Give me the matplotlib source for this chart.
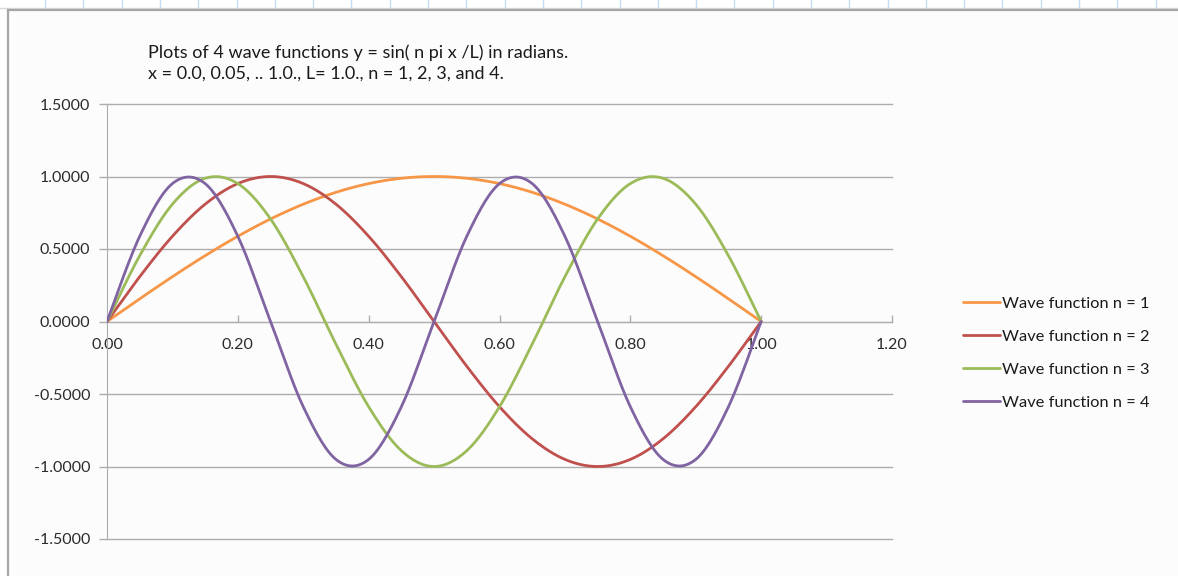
import numpy as np
import matplotlib.pyplot as plt
from matplotlib.lines import Line2D
from matplotlib.patches import Rectangle

plt.rcParams['font.family'] = ['Lato', 'DejaVu Sans']

# x = 0.0, 0.05, .. 1.0
x = [0.00, 0.05, 0.10, 0.15, 0.20, 0.25, 0.30, 0.35, 0.40, 0.45, 0.50,
     0.55, 0.60, 0.65, 0.70, 0.75, 0.80, 0.85, 0.90, 0.95, 1.00]

wave_n1 = [0.0000, 0.1564, 0.3090, 0.4540, 0.5878, 0.7071, 0.8090, 0.8910, 0.9511, 0.9877, 1.0000,
           0.9877, 0.9511, 0.8910, 0.8090, 0.7071, 0.5878, 0.4540, 0.3090, 0.1564, 0.0000]
wave_n2 = [0.0000, 0.3090, 0.5878, 0.8090, 0.9511, 1.0000, 0.9511, 0.8090, 0.5878, 0.3090, 0.0000,
           -0.3090, -0.5878, -0.8090, -0.9511, -1.0000, -0.9511, -0.8090, -0.5878, -0.3090, 0.0000]
wave_n3 = [0.0000, 0.4540, 0.8090, 0.9877, 0.9511, 0.7071, 0.3090, -0.1564, -0.5878, -0.8910, -1.0000,
           -0.8910, -0.5878, -0.1564, 0.3090, 0.7071, 0.9511, 0.9877, 0.8090, 0.4540, 0.0000]
wave_n4 = [0.0000, 0.5878, 0.9511, 0.9511, 0.5878, 0.0000, -0.5878, -0.9511, -0.9511, -0.5878, 0.0000,
           0.5878, 0.9511, 0.9511, 0.5878, 0.0000, -0.5878, -0.9511, -0.9511, -0.5878, 0.0000]

series_labels = ['Wave function n = 1', 'Wave function n = 2',
                 'Wave function n = 3', 'Wave function n = 4']
series_colors = ['#F79646', '#C0504D', '#9BBB59', '#8064A2']

title_lines = ['Plots of 4 wave functions y = sin( n pi x /L) in radians.',
               'x = 0.0, 0.05, .. 1.0., L= 1.0., n = 1, 2, 3, and 4.']

x_ticks = [0.0, 0.2, 0.4, 0.6, 0.8, 1.0, 1.2]
y_ticks = [-1.5, -1.0, -0.5, 0.0, 0.5, 1.0, 1.5]


def smooth(xs, ys, steps=16):
    # Catmull-Rom curve through the points (like a spreadsheet "smoothed line")
    p = np.column_stack([xs, ys]).astype(float)
    p = np.vstack([p[0], p, p[-1]])
    t = np.linspace(0, 1, steps, endpoint=False)[:, None]
    out = []
    for i in range(1, len(p) - 2):
        p0, p1, p2, p3 = p[i - 1], p[i], p[i + 1], p[i + 2]
        seg = 0.5 * ((2 * p1) + (-p0 + p2) * t + (2 * p0 - 5 * p1 + 4 * p2 - p3) * t ** 2
                     + (-p0 + 3 * p1 - 3 * p2 + p3) * t ** 3)
        out.append(seg)
    out.append(p[-2][None, :])
    out = np.vstack(out)
    return out[:, 0], out[:, 1]


W, H = 1178, 576
fig = plt.figure(figsize=(W / 100, H / 100), dpi=100)
fig.patch.set_facecolor('#FCFCFC')


def fx(px):
    return px / W


def fy(py):
    return 1 - py / H


# spreadsheet strip above the chart frame
fig.add_artist(Rectangle((0, fy(9)), 1, 9 / H, transform=fig.transFigure,
                         facecolor='white', edgecolor='none'))
for gx in np.arange(45, W, 38.3):
    fig.add_artist(Line2D([fx(gx), fx(gx)], [fy(0), fy(7)], transform=fig.transFigure,
                          color='#C5DCF5', lw=1))
fig.add_artist(Line2D([0, 1], [fy(7.5), fy(7.5)], transform=fig.transFigure,
                      color='#DADADA', lw=1))
fig.add_artist(Rectangle((0, 0), fx(7), fy(9), transform=fig.transFigure,
                         facecolor='white', edgecolor='none'))
# chart frame
fig.add_artist(Line2D([fx(7.5), 1], [fy(10), fy(10)], transform=fig.transFigure,
                      color='#A6A6A6', lw=1.6))
fig.add_artist(Line2D([fx(7.5), fx(7.5)], [0, fy(10)], transform=fig.transFigure,
                      color='#A6A6A6', lw=1.6))

ax = fig.add_axes([fx(107), fy(539), fx(892) - fx(107), fy(104) - fy(539)])
ax.set_facecolor('#FCFCFC')

for ys, lab, col in zip([wave_n1, wave_n2, wave_n3, wave_n4], series_labels, series_colors):
    sx, sy = smooth(x, ys)
    ax.plot(sx, sy, color=col, lw=2.0, label=lab, zorder=3, solid_capstyle='round')

ax.set_xlim(0, 1.2)
ax.set_ylim(-1.5, 1.5)
ax.set_xticks(x_ticks)
ax.set_xticklabels([f'{v:.2f}' for v in x_ticks])
ax.set_yticks(y_ticks)
ax.set_yticklabels([f'{v:.4f}' for v in y_ticks])

grid_col = '#ADADAD'
ax.yaxis.grid(True, color=grid_col, lw=1)
for gl in ax.get_ygridlines():
    gl.set_clip_on(False)
ax.set_axisbelow(True)
ax.spines['bottom'].set_position(('data', 0))
ax.spines['bottom'].set_color(grid_col)
ax.spines['left'].set_color(grid_col)
ax.spines['top'].set_visible(False)
ax.spines['right'].set_visible(False)

ax.tick_params(axis='x', direction='in', length=5, width=1, color=grid_col,
               pad=12, labelsize=11.5, labelcolor='#2B2B2B')
ax.tick_params(axis='y', direction='out', length=6, width=1, color=grid_col,
               pad=6, labelsize=11.5, labelcolor='#2B2B2B')

for i, line in enumerate(title_lines):
    fig.text(fx(148), fy(53 + 21 * i), line, fontsize=13, color='#1A1A1A',
             ha='left', va='center')

fig.legend(loc='upper left', bbox_to_anchor=(fx(963), fy(296.5)), frameon=False,
           fontsize=11.8, handlelength=2.25, handletextpad=0.15, labelspacing=1.13,
           borderpad=0, borderaxespad=0, labelcolor='#1A1A1A')

fig.savefig('out.png', dpi=100, facecolor=fig.get_facecolor())
